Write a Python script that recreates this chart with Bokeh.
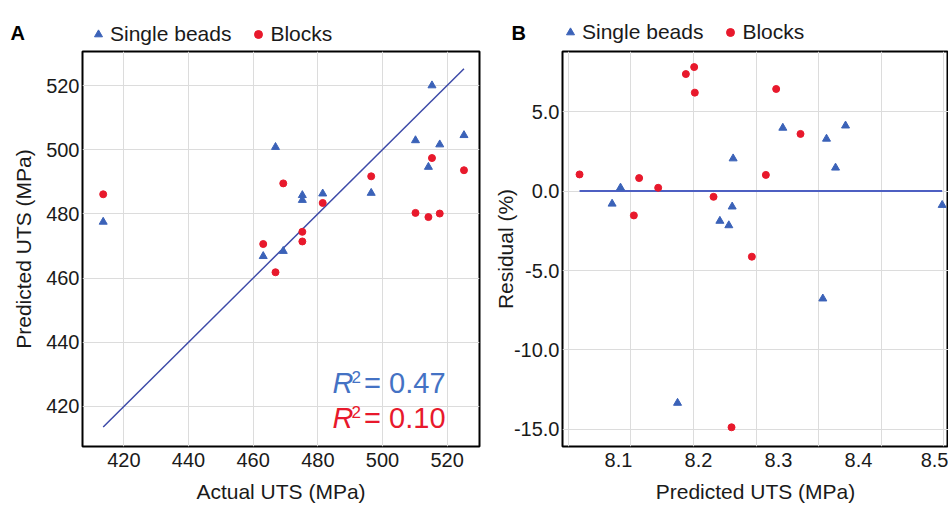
from bokeh.plotting import figure
from bokeh.models import (FixedTicker, NumeralTickFormatter, Legend, LegendItem,
                          Label, Range1d, ColumnDataSource)
from bokeh.layouts import row, column
from bokeh.embed import file_html
from bokeh.resources import INLINE
import numpy as np

# ---------------- data ----------------
# Panel A: actual vs predicted UTS (MPa)
actual_uts = [413.6, 463.1, 466.9, 469.3, 475.2, 475.2, 481.5, 496.5, 510.2, 514.2, 515.3, 517.7, 525.2]
pred_single_beads = [477.5, 466.8, 500.8, 468.4, 485.8, 484.3, 486.3, 486.5, 502.9, 494.6, 520.0, 501.6, 504.5]
pred_blocks = [486.1, 470.6, 461.8, 489.5, 474.4, 471.4, 483.4, 491.7, 480.3, 479.0, 497.4, 480.1, 493.6]
r2_single_beads = "0.47"
r2_blocks = "0.10"
ticks_a = [420, 440, 460, 480, 500, 520]

# Panel B: residuals vs predicted UTS
beads_pred = [8.092, 8.1025, 8.2267, 8.2379, 8.2421, 8.2433, 8.3054, 8.360, 8.3713, 8.3838, 8.5046, 8.3554, 8.1738]
beads_resid = [-0.80, 0.21, -1.88, -2.16, -0.98, 2.05, 3.98, 3.29, 1.47, 4.12, -0.88, -6.77, -13.34]
blocks_pred = [8.0513, 8.1192, 8.1258, 8.1496, 8.1842, 8.1946, 8.1954, 8.2188, 8.2842, 8.2971, 8.3275, 8.2667, 8.2413]
blocks_resid = [1.05, -1.53, 0.82, 0.21, 7.37, 7.81, 6.20, -0.36, 1.02, 6.43, 3.60, -4.13, -14.87]
ticks_b_x = [8.1, 8.2, 8.3, 8.4, 8.5]
ticks_b_y = [-15, -10, -5, 0, 5]

# ---------------- style ----------------
FONT = "Liberation Sans"
BLUE = "#3b62b8"
RED = "#e8192c"
LINE_A = "#3d4aa8"
LINE_B = "#4d5fc2"
GRID = "#dcdcdc"
TXT = "#1a1a1a"
R2_BLUE = "#4472c4"
R2_RED = "#e8192c"
W, H = 948, 507
WA = 490
HEADER_H = 48
# gridline placement of panel B's vertical grid (as drawn in the reference)
GRID_B_START, GRID_B_STEP, GRID_B_N = 8.037, 0.0783, 7


def style(p):
    p.outline_line_color = "black"
    p.outline_line_width = 2
    p.background_fill_color = "white"
    p.border_fill_color = "white"
    for ax in (p.xaxis[0], p.yaxis[0]):
        ax.axis_line_color = None
        ax.major_tick_line_color = None
        ax.minor_tick_line_color = None
        ax.major_tick_out = 0
        ax.major_tick_in = 0
        ax.minor_tick_out = 0
        ax.major_label_text_font = FONT
        ax.major_label_text_font_size = "20px"
        ax.major_label_text_color = TXT
        ax.axis_label_text_font = FONT
        ax.axis_label_text_font_size = "21px"
        ax.axis_label_text_font_style = "normal"
        ax.axis_label_text_color = TXT
    p.xaxis.major_label_standoff = 6
    p.xaxis.axis_label_standoff = 10
    p.yaxis.major_label_standoff = 3
    p.grid.grid_line_color = GRID
    p.grid.grid_line_width = 1


# ---------------- header (panel letters + legends) ----------------
hdr = figure(width=W, height=HEADER_H, x_range=Range1d(0, W), y_range=Range1d(0, HEADER_H),
             output_backend="svg", toolbar_location=None, title=None,
             x_axis_type=None, y_axis_type=None,
             min_border_left=0, min_border_right=0, min_border_top=0, min_border_bottom=0)
hdr.outline_line_color = None
hdr.grid.visible = False
hdr.border_fill_color = "white"
nan_src = ColumnDataSource(dict(x=np.array([np.nan]), y=np.array([np.nan])))
tri_key = hdr.scatter("x", "y", source=nan_src, marker="triangle", size=8, color=BLUE)
circ_key = hdr.scatter("x", "y", source=nan_src, marker="circle", size=7, color=RED)
for (loc, letter, lx) in [((88, 2), "A", 10), ((560, 4), "B", 511)]:
    leg = Legend(items=[LegendItem(label="Single beads", renderers=[tri_key]),
                        LegendItem(label="Blocks", renderers=[circ_key])],
                 location=loc, orientation="horizontal",
                 glyph_width=20, glyph_height=20, label_standoff=2, spacing=17,
                 padding=0, margin=0, border_line_color=None,
                 background_fill_alpha=0,
                 label_text_font=FONT, label_text_font_size="21px",
                 label_text_color=TXT)
    hdr.add_layout(leg)
    hdr.add_layout(Label(x=lx, y=16, x_units="screen", y_units="screen", text=letter,
                         text_font=FONT, text_font_size="20px", text_font_style="bold",
                         text_color="black", text_baseline="alphabetic"))

# ---------------- panel A ----------------
pA = figure(width=WA, height=H - HEADER_H, x_range=Range1d(407.2, 530.0), y_range=Range1d(407.5, 530.6),
            output_backend="svg", toolbar_location=None, title=None,
            min_border_left=82, min_border_right=11, min_border_top=3, min_border_bottom=60,
            x_axis_label="Actual UTS (MPa)", y_axis_label="Predicted UTS (MPa)")
style(pA)
pA.xaxis.ticker = FixedTicker(ticks=ticks_a)
pA.yaxis.ticker = FixedTicker(ticks=ticks_a)
pA.yaxis.axis_label_standoff = 8

srcA = ColumnDataSource(dict(actual=actual_uts, beads=pred_single_beads, blocks=pred_blocks))
lo, hi = min(actual_uts), max(actual_uts)
pA.line([lo, hi], [lo, hi], line_color=LINE_A, line_width=1.5)
pA.scatter("actual", "beads", source=srcA, marker="triangle", size=8, color=BLUE)
pA.scatter("actual", "blocks", source=srcA, marker="circle", size=7, color=RED)

for (yb, ys, val, col) in [(427.4, 429.2, r2_single_beads, R2_BLUE), (416.5, 418.4, r2_blocks, R2_RED)]:
    pA.add_layout(Label(x=484.5, y=yb, text="R", text_font=FONT, text_font_size="29px",
                        text_font_style="italic", text_color=col, text_baseline="alphabetic"))
    pA.add_layout(Label(x=490.4, y=ys, text="2", text_font=FONT, text_font_size="17px",
                        text_color=col, text_baseline="alphabetic"))
    pA.add_layout(Label(x=494.3, y=yb, text="= " + val, text_font=FONT, text_font_size="29px",
                        text_color=col, text_baseline="alphabetic"))

# ---------------- panel B ----------------
pB = figure(width=W - WA, height=H - HEADER_H, x_range=Range1d(8.03, 8.5125), y_range=Range1d(-16.08, 8.79),
            output_backend="svg", toolbar_location=None, title=None,
            min_border_left=72, min_border_right=0, min_border_top=2, min_border_bottom=61,
            x_axis_label="Predicted UTS (MPa)", y_axis_label="Residual (%)")
style(pB)
pB.xaxis.ticker = FixedTicker(ticks=ticks_b_x)
pB.yaxis.ticker = FixedTicker(ticks=ticks_b_y)
pB.xaxis.formatter = NumeralTickFormatter(format="0.0")
pB.yaxis.formatter = NumeralTickFormatter(format="0.0")
pB.xgrid.ticker = FixedTicker(ticks=list(GRID_B_START + GRID_B_STEP * np.arange(GRID_B_N)))
pB.yaxis.axis_label_standoff = -6

all_pred = beads_pred + blocks_pred
pB.line([min(all_pred), max(all_pred)], [0, 0], line_color=LINE_B, line_width=2)
srcB1 = ColumnDataSource(dict(x=beads_pred, y=beads_resid))
srcB2 = ColumnDataSource(dict(x=blocks_pred, y=blocks_resid))
pB.scatter("x", "y", source=srcB1, marker="triangle", size=8, color=BLUE)
pB.scatter("x", "y", source=srcB2, marker="circle", size=7, color=RED)

layout = column(hdr, row(pA, pB))
open("out.html", "w").write(file_html(layout, INLINE))
